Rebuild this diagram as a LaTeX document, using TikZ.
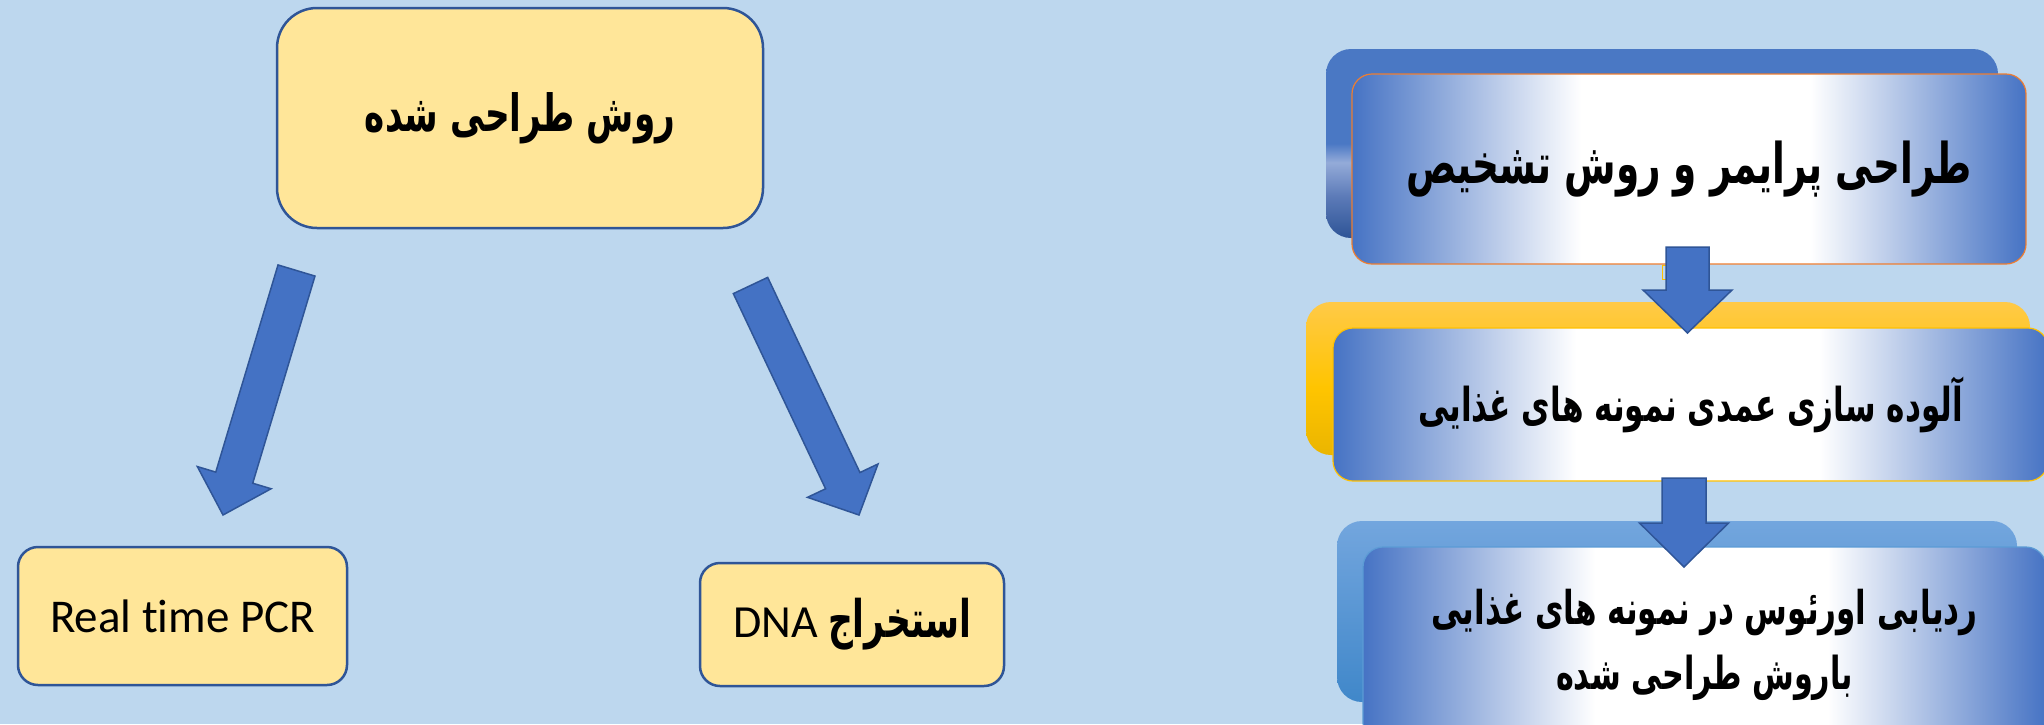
\documentclass[tikz,border=0pt]{standalone}
\usepackage{fontspec}
\usepackage{graphicx}
\setmainfont{Carlito}[Ligatures=NoCommon]
\newfontfamily\fa[Script=Arabic]{DejaVu Sans}
\TeXXeTstate=1
\usetikzlibrary{calc}
\definecolor{bgblue}{HTML}{BDD7EE}
\definecolor{boxyellow}{HTML}{FFE699}
\definecolor{darkline}{HTML}{2F5597}
\definecolor{arrowblue}{HTML}{4472C4}
\definecolor{gradblue}{HTML}{4673C4}
\definecolor{orangeline}{HTML}{ED7D31}
\definecolor{goldline}{HTML}{FFC000}
\definecolor{skyline}{HTML}{5B9BD5}
% TikZ maps a path's bounding box onto 25bp..75bp of a shading
\pgfdeclareverticalshading{backblue}{100bp}{rgb(0bp)=(0.18,0.33,0.59); rgb(25bp)=(0.18,0.33,0.59); rgb(36bp)=(0.36,0.48,0.72); rgb(45bp)=(0.58,0.67,0.85); rgb(50bp)=(0.29,0.47,0.77); rgb(75bp)=(0.29,0.47,0.77); rgb(100bp)=(0.29,0.47,0.77)}
\pgfdeclareverticalshading{backgold}{100bp}{rgb(0bp)=(0.92,0.71,0.0); rgb(25bp)=(0.92,0.71,0.0); rgb(47bp)=(1.0,0.77,0.0); rgb(75bp)=(1.0,0.79,0.28); rgb(100bp)=(1.0,0.79,0.28)}
\pgfdeclareverticalshading{backsky}{100bp}{rgb(0bp)=(0.25,0.53,0.79); rgb(25bp)=(0.25,0.53,0.79); rgb(75bp)=(0.45,0.65,0.87); rgb(100bp)=(0.45,0.65,0.87)}
\newcommand{\blockarrow}[5]{%
  \coordinate (ba-h) at ($(#2)!#5!(#1)$);
  \draw[blockarrowstyle]
    ($(#1)!#3!90:(#2)$) -- ($(ba-h)!#3!90:(#2)$) -- ($(ba-h)!#4!90:(#2)$) --
    (#2) -- ($(ba-h)!#4!-90:(#2)$) -- ($(ba-h)!#3!-90:(#2)$) --
    ($(#1)!#3!-90:(#2)$) -- cycle;}
\newcommand{\fatext}[2]{\scalebox{1}[1.5]{\resizebox{#1}{!}{\fa\bfseries #2}}}
\begin{document}
\begin{tikzpicture}[x=1pt,y=-1pt,
  yellowbox/.style={draw=darkline, line width=2.5pt, fill=boxyellow, inner sep=0pt, align=center},
  frontbox/.style={fill=white, line width=1.2pt, rounded corners=20pt, inner sep=0pt, align=center,
    path picture={
      \coordinate (pp-sw) at (path picture bounding box.south west);
      \coordinate (pp-ne) at (path picture bounding box.north east);
      \path (pp-sw) -- (pp-sw -| pp-ne) coordinate[pos=0.34] (pp-a) coordinate[pos=0.68] (pp-b);
      \shade[left color=gradblue, right color=white, sharp corners] (pp-sw) rectangle (pp-a |- pp-ne);
      \shade[left color=white, right color=gradblue, sharp corners] (pp-b) rectangle (pp-ne);
    }},
  backbox/.style={rounded corners=25pt, inner sep=0pt},
  blockarrowstyle/.style={fill=arrowblue, draw=darkline, line width=1.5pt, line join=miter}]
\useasboundingbox (0,0) rectangle (2044,724);
\fill[bgblue] (0,0) rectangle (2044,724);
\begin{scope}
\clip (0,0) rectangle (2044,724);
% left part
\node[yellowbox, rounded corners=40pt, minimum width=486pt, minimum height=220pt] (top) at (520,118) {\fatext{310pt}{\beginR روش طراحی شده\endR}};
\node[yellowbox, rounded corners=20pt, minimum width=329pt, minimum height=138pt, font=\fontsize{47}{56}\selectfont] (pcr) at (182.5,616) {Real time PCR};
\node[yellowbox, rounded corners=20pt, minimum width=304pt, minimum height=123pt, font=\fontsize{46}{56}\selectfont] (dna) at (852,624.5) {DNA \fatext{143pt}{\beginR استخراج\endR}};
\coordinate (la1) at (296.5,270.5);
\coordinate (la2) at (223,515);
\coordinate (ra1) at (750.5,285.5);
\coordinate (ra2) at (859,515);
\blockarrow{la1}{la2}{19.3pt}{38.5pt}{39pt}
\blockarrow{ra1}{ra2}{19pt}{39pt}{38pt}
% right part
\node[backbox, shading=backblue, minimum width=672pt, minimum height=189pt] (b1back) at (1662,143.5) {};
\node[frontbox, draw=orangeline, minimum width=674pt, minimum height=190pt] (b1) at (1689,169) {\fatext{565pt}{\beginR طراحی پرایمر و روش تشخیص\endR}};
\node[backbox, shading=backgold, minimum width=724pt, minimum height=153pt] (b2back) at (1668,378.5) {};
\node[frontbox, draw=goldline, minimum width=715pt, minimum height=153pt] (b2) at (1690.5,404.5) {\fatext{545pt}{\beginR آلوده سازی عمدی نمونه های غذایی\endR}};
\node[backbox, shading=backsky, minimum width=680pt, minimum height=181pt] (b3back) at (1677,611.5) {};
\node[frontbox, draw=skyline, minimum width=683pt, minimum height=196pt, font=\fontsize{40}{65}\selectfont] (b3) at (1704.5,645) {\fatext{546pt}{\beginR ردیابی اورئوس در نمونه های غذایی\endR}\\\fatext{297pt}{\beginR باروش طراحی شده\endR}};
\draw[goldline, line width=1pt] (1662,265) rectangle (1690,279);
\coordinate (a1s) at (1687.5,247);
\coordinate (a1e) at (1687.5,333);
\coordinate (a2s) at (1684,478);
\coordinate (a2e) at (1684,567);
\blockarrow{a1s}{a1e}{21.5pt}{44.5pt}{43pt}
\blockarrow{a2s}{a2e}{22pt}{44.5pt}{44pt}
\end{scope}
\end{tikzpicture}
\end{document}
